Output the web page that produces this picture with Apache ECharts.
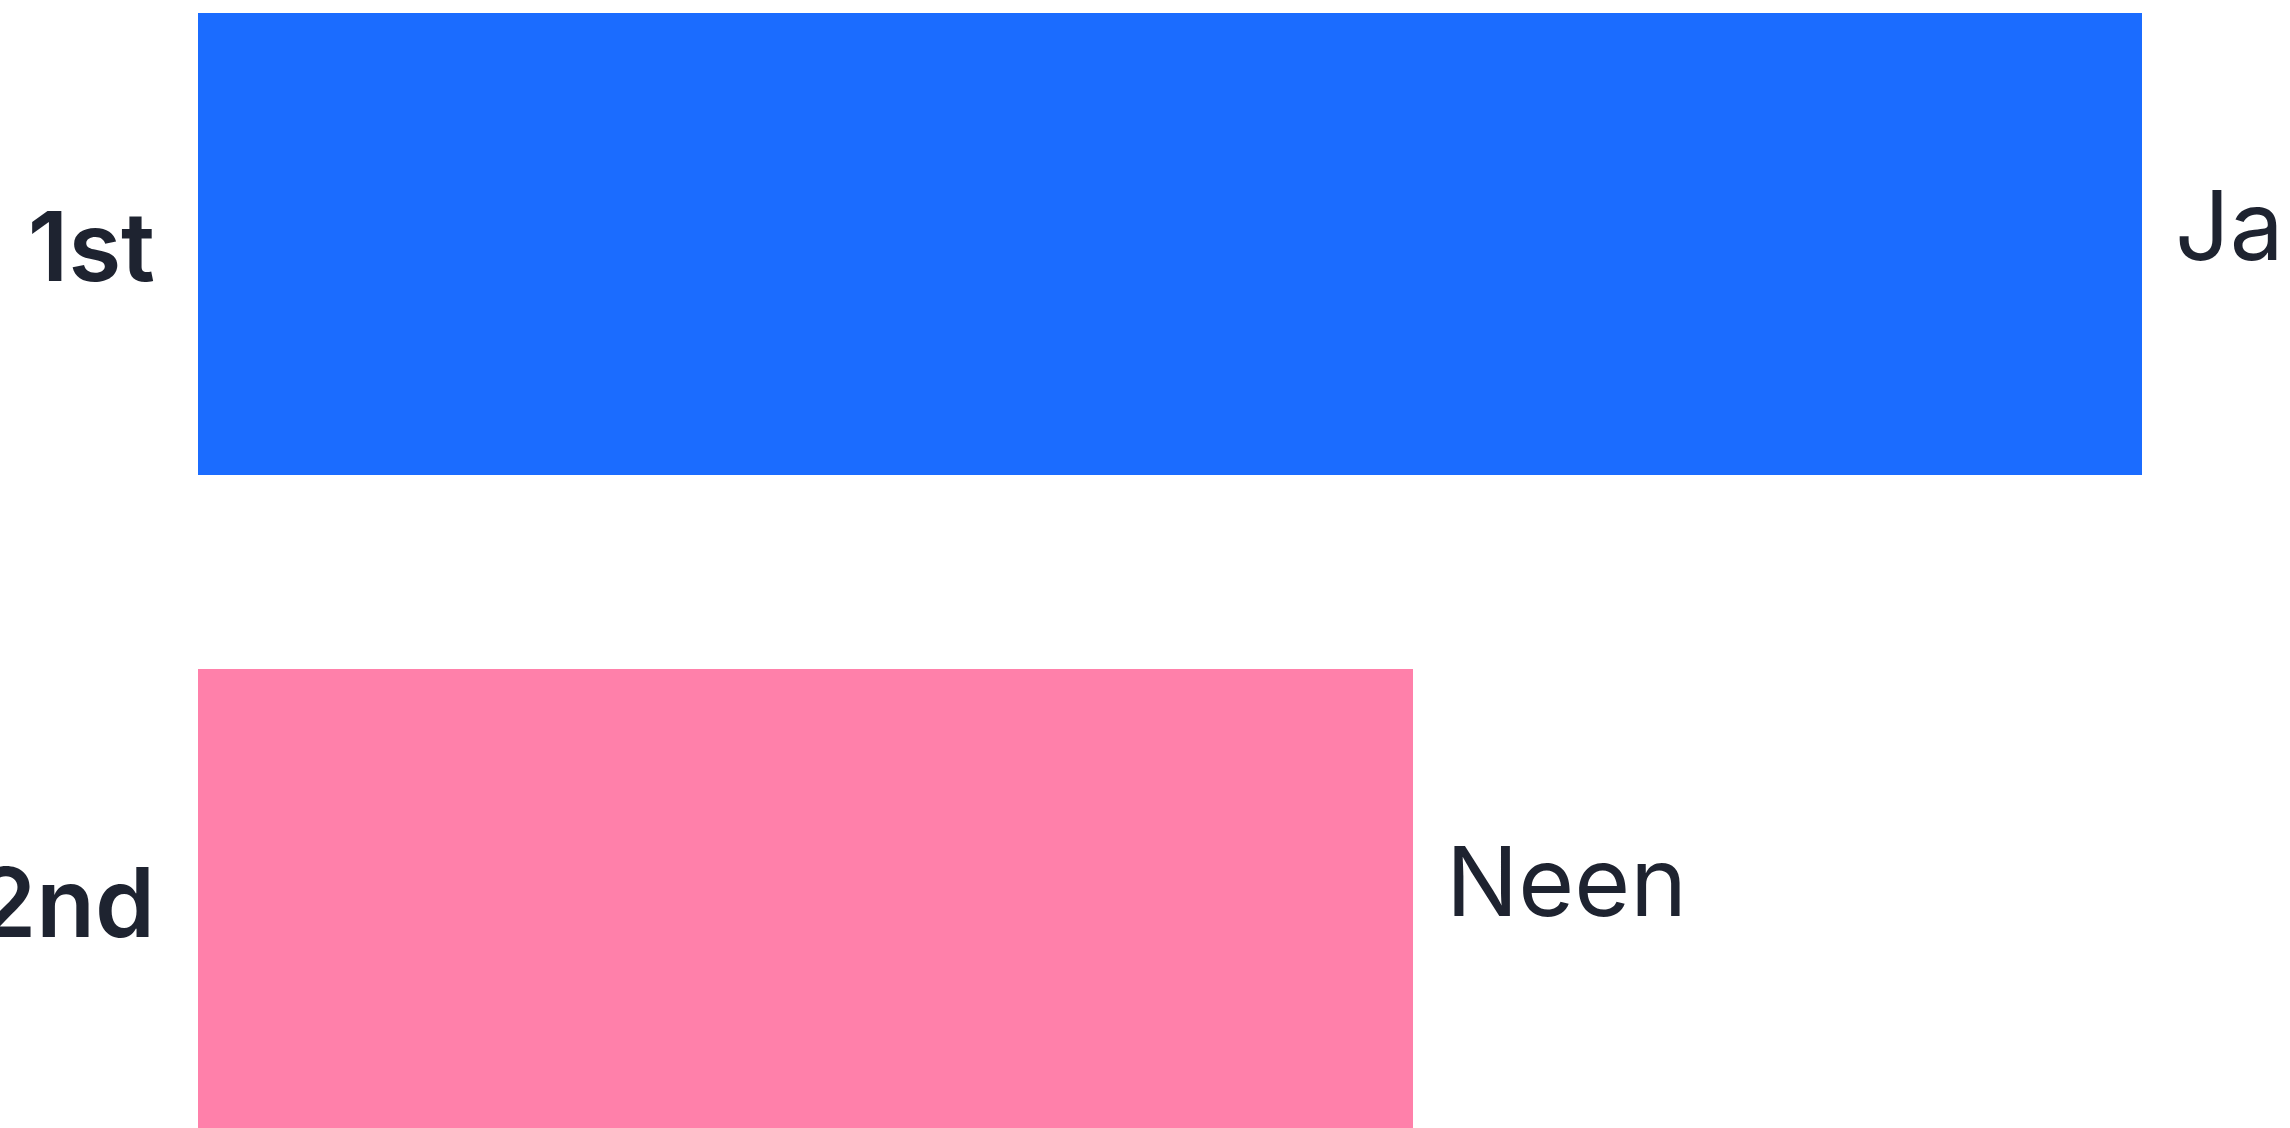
<!DOCTYPE html>
<html>
<head>
<meta charset="utf-8">
<script src="https://cdn.jsdelivr.net/npm/echarts@6/dist/echarts.min.js"></script>
<style>
  html, body { margin: 0; padding: 0; background: #fff; }
  #barChart { width: 2290px; height: 1128px; }
</style>
</head>
<body>
<div id="barChart"></div>
<script>
// rondes en antwoorden
const rounds = ["1st", "2nd"];
const answers = ["Ja", "Neen"];
const votes = [8, 5];
const barColors = ["#1b6cff", "#ff80aa"];

const chart = echarts.init(document.getElementById("barChart"));

const option = {
  backgroundColor: "#ffffff",
  animation: false,
  grid: {
    left: 198,
    right: 148,
    top: -84,
    bottom: -100,
    containLabel: false,
    outerBoundsMode: "none",
  },
  xAxis: {
    type: "value",
    min: 0,
    max: 8,
    show: false,
  },
  yAxis: {
    type: "category",
    inverse: true,
    data: rounds,
    axisLine: { show: false },
    axisTick: { show: false },
    splitLine: { show: false },
    axisLabel: {
      margin: 43,
      formatter: (v) => "{r|" + v + "}",
      rich: {
        r: {
          padding: [16, 0, 0, 0],
          color: "#1e2330",
          fontSize: 96,
          fontWeight: 600,
          fontFamily: "Inter",
        },
      },
    },
  },
  series: [
    {
      type: "bar",
      barWidth: 462,
      data: votes.map((v, i) => ({
        value: v,
        itemStyle: { color: barColors[i] },
      })),
      label: {
        show: true,
        position: "right",
        distance: 33,
        offset: [0, -13],
        color: "#1e2330",
        fontSize: 96,
        fontFamily: "Inter",
        formatter: (p) => answers[p.dataIndex],
      },
    },
  ],
};

chart.setOption(option);
</script>
</body>
</html>
